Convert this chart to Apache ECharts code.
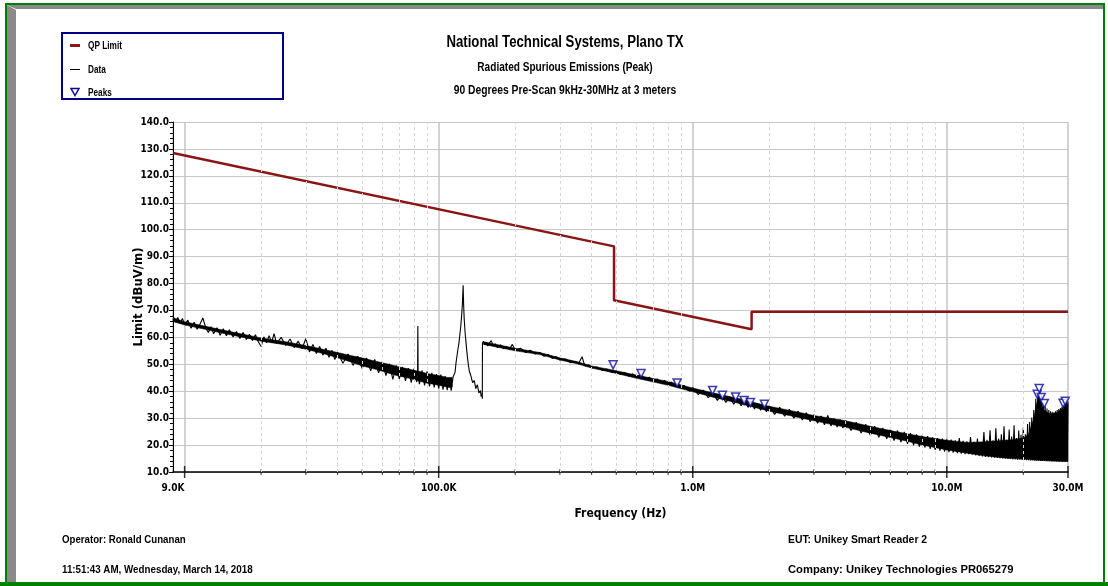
<!DOCTYPE html>
<html><head><meta charset="utf-8">
<script src="https://cdn.jsdelivr.net/npm/echarts@6/dist/echarts.min.js"></script>
<style>html,body{margin:0;padding:0;background:#fff}#c{width:1108px;height:586px}</style>
</head><body><div id="c"></div>
<script>
const FONT = '"DejaVu Sans Condensed","Liberation Sans",sans-serif';
const GFONT = '"Liberation Sans",Arial,sans-serif';

const titleLines = ['National Technical Systems, Plano TX', 'Radiated Spurious Emissions (Peak)', '90 Degrees Pre-Scan 9kHz-30MHz at 3 meters'];
const footerLeft = ['Operator: Ronald Cunanan', '11:51:43 AM, Wednesday, March 14, 2018'];
const footerRight = ['EUT: Unikey Smart Reader 2', 'Company: Unikey Technologies PR065279'];
const seriesNames = ['QP Limit', 'Data', 'Peaks'];

// frequencies in kHz, levels in dBuV/m
const qpLimit = [[9,128.5],[490,93.8],[490,73.8],[1705,63.0],[1705,69.5],[30000,69.5]];

const peaks = [[486,49.8],[626,46.6],[868,43.1],[1197,40.3],[1309,38.5],[1475,37.9],[1593,36.6],[1686,35.8],[1915,35.2],
  [22690,38.9],[23100,41.0],[23530,37.7],[24200,35.4],[28700,35.5],[29250,36.3]];

const dataTrace = [
[9.0,68.2],[9.2,65.6],[9.4,67.4],[9.6,65.2],[9.8,67.0],[10.0,64.8],[10.3,66.4],[10.6,63.4],[10.9,65.6],[11.2,63.0],[11.5,65.0],[11.8,67.2],[12.1,63.6],[12.4,61.8],[12.7,64.0],[13.0,61.4],[13.4,63.6],[13.8,60.8],[14.2,63.2],[14.6,60.6],[15.0,62.8],[15.5,60.2],[16.0,62.2],[16.5,59.6],[17.0,61.8],[17.5,59.2],[18.0,61.2],[18.5,58.8],[19.0,61.0],[19.5,58.4],[20.0,56.6],[20.5,60.2],[21.0,58.0],[21.5,60.6],[22.0,58.2],[22.5,61.4],[23.0,57.8],[24.0,60.0],[25.0,57.0],[26.0,59.4],[27.0,56.2],[28.0,58.6],[29.0,55.8],[30.0,59.6],[31.0,54.6],[32.0,57.4],[33.0,54.0],[34.0,56.6],[35.0,53.4],[36.0,56.0],[37.0,52.6],[38.0,55.2],[39.0,51.8],[40.0,54.4],[42.0,50.4],[44.0,53.8],[46.0,49.6],[48.0,53.0],[50.0,48.4],[52.0,52.4],[54.0,47.6],[56.0,51.8],[58.0,46.8],[60.0,51.0],[62.0,45.8],[64.0,50.2],[66.0,44.4],[68.0,49.6],[70.0,44.6],[72.0,49.0],[74.0,43.8],[76.0,48.6],[78.0,43.2],[80.0,48.4],[82.0,43.4],[82.6,47.0],[82.8,64.2],[83.0,45.2],[84.0,42.6],[86.0,47.8],[88.0,42.2],[90.0,47.4],[92.0,41.8],[94.0,46.8],[96.0,41.4],[98.0,46.4],[100,41.0],[102,46.2],[104,40.6],[106,45.6],[108,40.4],[110,45.2],[112,40.2],[114,45.4],
[116,47.0],[117,50.5],[118,53.0],[119,55.5],[120,57.5],[121,60.5],[122,63.5],[123,67.5],[124,72.5],[124.8,79.4],[125.4,72.0],[126,67.0],[127,62.0],[128,58.5],[129,55.0],[130,52.0],[131,49.5],[132,47.5],[134,45.6],[136,43.2],[138,44.0],[140,41.0],[142,42.4],[144,39.4],[146,40.2],[147,38.0],[148,39.0],[148.5,37.2],[148.7,57.8],
[150,58.6],[152,57.2],[154,58.2],[156,56.8],[158,57.8],[161,58.8],[164,56.8],[167,57.6],[170,56.2],[175,57.2],[180,55.8],[185,56.6],[190,55.6],[195,57.4],[200,55.2],[210,56.0],[220,54.4],[230,55.2],[240,53.8],[250,54.4],[260,53.0],[270,53.6],[280,52.2],[290,52.8],[300,51.6],[315,52.0],[330,50.6],[345,51.0],[355,50.2],[362,51.8],[367,52.8],[372,50.8],[378,49.4],[390,49.8],[400,48.6],[420,49.0],[440,47.8],[460,48.2],[480,47.0],
[500,47.4],[520,46.2],[540,47.0],[560,45.6],[580,46.4],[600,45.0],[625,46.2],[650,44.4],[675,45.2],[700,43.6],[725,44.6],[750,43.0],[775,44.0],[800,42.4],[825,43.4],[850,41.8],[875,42.8],[900,41.2],[925,42.2],[950,40.6],[975,40.0],
[1000,41.4],[1050,38.8],[1100,40.4],[1150,37.6],[1200,39.4],[1250,36.6],[1300,38.6],[1350,35.8],[1400,37.9],[1450,35.2],[1500,37.3],[1550,34.6],[1600,36.7],[1650,34.0],[1700,36.1],[1750,33.4],[1800,35.5],[1850,32.9],[1900,35.0],[1950,32.4],[2000,34.6],
[2100,31.4],[2200,34.0],[2300,30.7],[2400,33.3],[2500,30.0],[2600,32.6],[2700,29.3],[2800,32.0],[2900,28.7],[3000,31.3],[3100,28.1],[3200,30.8],[3300,27.5],[3400,31.0],[3500,27.1],[3600,29.9],[3700,26.7],[3800,29.5],[3900,26.3],[4000,29.1],
[4200,25.4],[4400,28.5],[4600,24.5],[4800,27.7],[5000,23.6],[5200,27.0],[5400,22.9],[5600,26.4],[5800,22.3],[6000,25.9],[6200,21.7],[6400,25.4],[6600,21.1],[6800,24.9],[7000,20.5],[7200,24.4],[7400,20.0],[7600,24.0],[7800,19.4],[8000,23.6],[8200,19.1],[8400,23.3],[8600,18.6],[8800,22.9],[9000,18.2],[9200,22.6],[9400,17.9],[9600,22.4],[9800,17.6],[10000,22.1],
[10200,17.4],[10400,22.0],[10600,17.2],[10800,21.8],[11000,17.0],[11200,22.6],[11400,16.8],[11600,21.6],[11800,16.6],[12000,21.4],[12200,16.6],[12400,23.0],[12600,16.4],[12800,21.2],[13000,16.2],[13200,22.4],[13400,16.0],[13600,21.0],[13800,15.8],[14000,24.8],
[14200,15.6],[14400,22.0],[14600,15.5],[14800,25.5],[15000,15.4],[15200,21.8],[15400,15.3],[15600,26.2],[15800,15.2],[16000,22.4],[16200,15.1],[16400,24.0],[16600,15.0],[16800,27.0],[17000,14.9],[17200,22.0],[17400,14.8],[17600,25.8],[17800,14.8],[18000,23.2],[18200,14.7],[18400,27.4],[18600,14.7],[18800,22.6],[19000,14.6],[19200,25.4],[19400,14.6],[19600,23.8],[19800,14.5],[20000,26.4],
[20200,14.5],[20400,24.0],[20600,14.4],[20800,27.8],[21000,14.4],[21200,28.6],[21400,14.3],[21600,30.2],[21800,14.3],[22000,33.0],[22200,14.2],[22400,37.2],[22600,14.2],[22800,39.0],[23000,14.2],[23200,40.2],[23400,14.1],[23600,38.4],[23800,14.1],[24000,35.8],[24200,14.1],[24400,34.4],[24600,14.0],[24800,33.6],[25000,14.0],[25200,33.0],[25400,14.0],[25600,32.6],[25800,13.9],[26000,32.4],[26200,13.9],[26400,32.2],[26600,13.9],[26800,32.6],[27000,13.8],[27200,33.0],[27400,13.8],[27600,33.4],[27800,13.8],[28000,33.8],[28200,13.8],[28400,34.2],[28600,13.7],[28800,34.8],[29000,13.7],[29200,35.4],[29400,13.7],[29600,35.8],[29800,13.7],[30000,36.2]
];

// dense part of the trace: [kHz, lower edge, upper edge]
const bandLow = [
[9,65.9,67.3],[10,64.6,65.8],[12,63.0,64.2],[14,61.6,62.8],[17,60.0,61.2],[20,58.6,59.8],[25,57.2,58.4],[30,55.6,57.0],[35,54.0,55.6],[40,52.4,54.4],[45,50.9,53.3],[50,49.4,52.4],[55,48.4,51.4],[60,47.4,50.6],[65,46.4,49.8],[70,45.6,49.0],[75,45.0,48.4],[80,44.4,47.8],[85,43.6,47.2],[90,43.0,46.6],[95,42.6,46.2],[100,42.2,45.8],[105,41.8,45.4],[110,41.4,45.0],[113,41.6,45.2]
];
const bandHigh = [
[150,57.4,58.4],[200,55.0,56.0],[250,53.6,54.4],[300,51.6,52.4],[350,50.2,51.0],[400,48.6,49.4],[490,46.8,47.8],[600,44.8,46.0],[800,42.2,43.6],[1000,39.8,41.2],[1200,37.8,39.4],[1500,35.6,37.4],[2000,32.6,34.4],[2500,30.6,32.6],[3000,29.0,31.0],[4000,26.6,29.0],[5000,24.4,27.0],[6000,22.8,25.4],[7000,21.4,24.2],[8000,20.0,23.2],[10000,18.2,21.8],[12000,17.0,21.0],[14000,16.0,21.2],[16000,15.4,21.6],[18000,15.0,22.0],[20000,14.8,22.6],[21000,14.6,24.0],[22000,14.5,30.0],[22500,14.4,35.0],[23000,14.4,38.0],[23500,14.3,36.0],[24000,14.3,33.4],[25000,14.2,32.0],[26000,14.1,31.6],[27000,14.1,32.0],[28000,14.0,33.0],[29000,14.0,34.2],[30000,14.0,35.4]
];
const bands = [bandLow, bandHigh];

const xTickLabels = {9000:'9.0K', 100000:'100.0K', 1000000:'1.0M', 10000000:'10.0M', 30000000:'30.0M'};
const minorGridKHz = [20,30,40,50,60,70,80,90,200,300,400,500,600,700,800,900,2000,3000,4000,5000,6000,7000,8000,9000,20000];
const majorTickKHz = [10,100,1000,10000,30000];

const toHz = a => a.map(p => [p[0] * 1000, p[1]]);
const chart = echarts.init(document.getElementById('c'));
const bold = (size) => ({fontFamily: FONT, fontWeight: 'bold', fontSize: size, color: '#000'});
const gtext = (text, x, y, size, sx, align) => ({
  type: 'text', silent: true, x: x, y: y, scaleX: sx, z: 20,
  style: {text: text, x: 0, y: 0, textAlign: align || 'left', textVerticalAlign: 'middle', font: 'bold ' + size + 'px ' + GFONT, fill: '#000'}
});

chart.setOption({
  animation: false,
  backgroundColor: '#fff',
  grid: {left: 173, right: 40, top: 122, bottom: 114, containLabel: false},
  xAxis: {
    type: 'log', logBase: 10, min: 9000, max: 30000000,
    name: 'Frequency (Hz)', nameLocation: 'middle', nameGap: 36, nameMoveOverlap: false, nameTextStyle: bold(12),
    axisLine: {show: true, onZero: false, lineStyle: {color: '#000', width: 1.5}},
    axisTick: {show: false},
    axisLabel: {show: true, interval: 0, showMinLabel: true, showMaxLabel: true, margin: 11, ...bold(10),
      formatter: v => xTickLabels[Math.round(v)] || ''},
    splitLine: {show: true, lineStyle: {color: '#c4c4c4', width: 1.5}}
  },
  yAxis: {
    type: 'value', min: 10, max: 140, interval: 10,
    name: 'Limit (dBuV/m)', nameLocation: 'middle', nameGap: 28, nameMoveOverlap: false, nameTextStyle: bold(13),
    axisLine: {show: true, lineStyle: {color: '#000', width: 1}},
    axisTick: {show: true, length: 4, lineStyle: {color: '#000'}},
    minorTick: {show: true, splitNumber: 5, length: 3, lineStyle: {color: '#000'}},
    axisLabel: {margin: 4, ...bold(10), formatter: v => v.toFixed(1)},
    splitLine: {show: true, lineStyle: {color: '#c8c8c8', width: 1}}
  },
  series: [
    {
      name: 'ticks', type: 'scatter', z: 1, silent: true, clip: false,
      symbol: 'rect', symbolSize: d => (majorTickKHz.includes(d[0] / 1000) ? [1.5, 12] : [1, 6]),
      itemStyle: {color: '#000'},
      data: minorGridKHz.concat(majorTickKHz).map(k => [k * 1000, 10]),
      markLine: {
        silent: true, symbol: 'none', label: {show: false}, animation: false,
        lineStyle: {color: '#d6d6d6', type: [3, 3], width: 1},
        data: minorGridKHz.map(k => ({xAxis: k * 1000}))
      }
    },
    {
      name: 'DataBand', type: 'custom', z: 2, silent: true,
      data: [[9000, 66], [150000, 58]],
      renderItem: (params, api) => {
        const b = bands[params.dataIndex];
        const upper = b.map(p => api.coord([p[0] * 1000, p[2]]));
        const lower = b.slice().reverse().map(p => api.coord([p[0] * 1000, p[1]]));
        return {type: 'polygon', shape: {points: upper.concat(lower)}, style: {fill: '#000', stroke: '#000', lineWidth: 0.5}};
      }
    },
    {
      name: 'Data', type: 'line', z: 3, showSymbol: false, symbol: 'none',
      lineStyle: {color: '#000', width: 1.1}, itemStyle: {color: '#000'},
      data: toHz(dataTrace)
    },
    {
      name: 'QP Limit', type: 'line', z: 4, showSymbol: false, symbol: 'none',
      lineStyle: {color: '#8b1515', width: 2.5}, itemStyle: {color: '#8b1515'},
      data: toHz(qpLimit)
    },
    {
      name: 'Peaks', type: 'scatter', z: 5, symbol: 'triangle', symbolRotate: 180, symbolSize: 8,
      itemStyle: {color: '#fff', borderColor: '#0a0aa0', borderWidth: 1.5},
      data: toHz(peaks)
    }
  ],
  graphic: [
    {type: 'rect', z: 0, silent: true, shape: {x: 6, y: 4, width: 1098, height: 580}, style: {fill: 'none', stroke: '#008000', lineWidth: 2}},
    {type: 'rect', z: 0, silent: true, shape: {x: 0, y: 582, width: 1108, height: 4}, style: {fill: '#008000'}},
    {type: 'polygon', z: 0, silent: true, shape: {points: [[7,5],[1103,5],[1103,9],[16,9]]}, style: {fill: '#8a8a8a'}},
    {type: 'polygon', z: 0, silent: true, shape: {points: [[7,5],[16,10],[16,582],[7,582]]}, style: {fill: '#8a8a8a'}},
    {type: 'rect', z: 0, silent: true, shape: {x: 62, y: 33, width: 221, height: 66}, style: {fill: '#fff', stroke: '#000080', lineWidth: 2}},
    {type: 'rect', z: 1, silent: true, shape: {x: 70, y: 44, width: 10, height: 3}, style: {fill: '#8b1515'}},
    {type: 'line', z: 1, silent: true, shape: {x1: 70, y1: 69.5, x2: 80, y2: 69.5}, style: {stroke: '#000', lineWidth: 1}},
    {type: 'polygon', z: 1, silent: true, shape: {points: [[71,88.5],[79,88.5],[75,95.5]]}, style: {fill: '#fff', stroke: '#0a0aa0', lineWidth: 1.5}},
    gtext(seriesNames[0], 88, 45.5, 11, 0.75),
    gtext(seriesNames[1], 88, 70, 11, 0.75),
    gtext(seriesNames[2], 88, 92.5, 11, 0.75),
    gtext(titleLines[0], 565, 43, 16, 0.824, 'center'),
    gtext(titleLines[1], 565, 68, 12, 0.84, 'center'),
    gtext(titleLines[2], 565, 91, 12, 0.857, 'center'),
    gtext(footerLeft[0], 62, 540, 11, 0.88),
    gtext(footerLeft[1], 62, 570, 11, 0.89),
    gtext(footerRight[0], 788, 540, 11, 0.944),
    gtext(footerRight[1], 788, 570, 11, 1.02)
  ]
});
</script></body></html>
